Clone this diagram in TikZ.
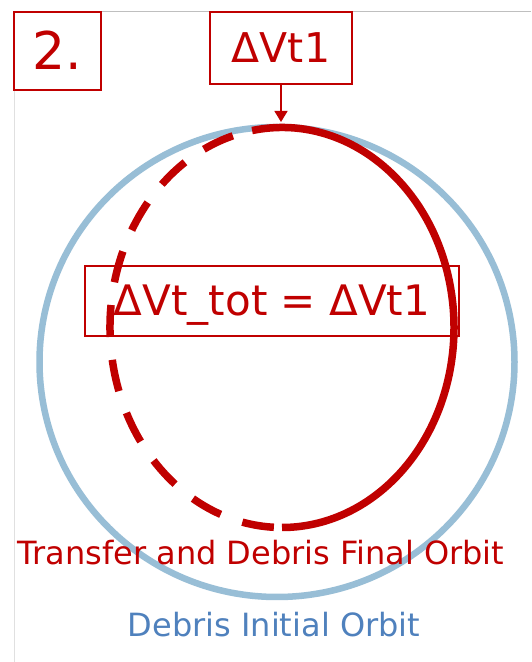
\documentclass[tikz,border=0pt]{standalone}
\usepackage{fontspec}
\setmainfont{DejaVu Sans}
\usetikzlibrary{arrows.meta}
\definecolor{darkred}{RGB}{192,0,0}
\definecolor{orbitblue}{RGB}{152,190,214}
\definecolor{textblue}{RGB}{79,129,189}
\begin{document}
\begin{tikzpicture}[x=1pt,y=1pt,
  redbox/.style={draw=darkred, line width=1.5pt, text=darkred, inner sep=0pt,
    text depth=0pt, align=center},
  orbitline/.style={line width=7.5pt, darkred},
  lbl/.style={anchor=base, font=\fontsize{32}{32}\selectfont}]
\useasboundingbox (0,0) rectangle (531,662);
\fill[white] (0,0) rectangle (531,662);
% frame lines
\draw[black!12, line width=1pt] (14,0) -- (14,650);
\draw[black!25, line width=1pt] (14,650) -- (531,650);
% initial orbit
\draw[orbitblue, line width=6.5pt] (277,300) ellipse [x radius=237.5, y radius=235];
% transfer / final orbit
\coordinate (rc) at (282,334.5);
\draw[orbitline] ([shift={(100:172 and 200)}]rc) arc[start angle=100, end angle=-90, x radius=172, y radius=200];
\draw[orbitline, dash pattern=on 32pt off 23pt, dash phase=35pt] ([shift={(100:172 and 200)}]rc) arc[start angle=100, end angle=270, x radius=172, y radius=200];
% boxes
\node[redbox, text height=38pt, minimum width=87, minimum height=78, font=\fontsize{52}{52}\selectfont] (two) at (57.5,611) {2.};
\node[redbox, text height=30pt, fill=white, minimum width=142, minimum height=72, font=\fontsize{41}{41}\selectfont] (dv1) at (281,614) {ΔVt1};
\node[redbox, text height=30pt, minimum width=374, minimum height=70, font=\fontsize{42}{42}\selectfont] (tot) at (272,361) {ΔVt\_tot = ΔVt1};
\coordinate (apex) at (281,540);
\draw[darkred, line width=1.5pt, -{Triangle[width=13pt,length=11pt]}] (dv1.south) -- (apex);
% labels
\node[lbl, text=darkred] (final) at (261,97) {Transfer and Debris Final Orbit};
\node[lbl, text=textblue] (initial) at (274,25) {Debris Initial Orbit};
\end{tikzpicture}
\end{document}
